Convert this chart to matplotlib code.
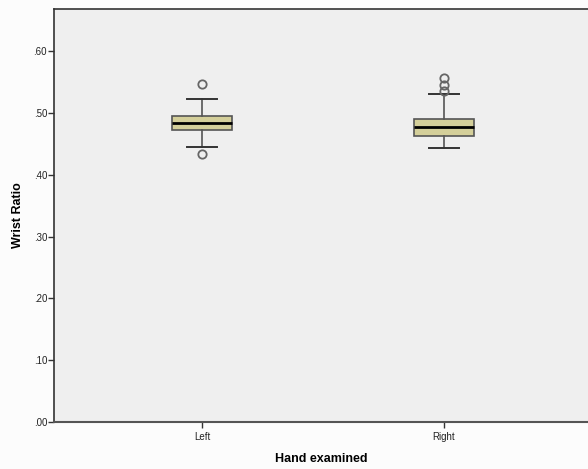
import matplotlib
matplotlib.use("Agg")
import matplotlib.pyplot as plt
from matplotlib.ticker import FuncFormatter

categories = ["Left", "Right"]
q1 = [0.472, 0.4625]
median = [0.4833, 0.4778]
q3 = [0.4956, 0.4908]
whislo = [0.445, 0.4438]
whishi = [0.5227, 0.5307]
outliers = [[0.547, 0.433], [0.5572, 0.5456, 0.5356]]
yticks = [0.0, 0.1, 0.2, 0.3, 0.4, 0.5, 0.6]

plt.rcParams['font.family'] = ['Liberation Sans', 'DejaVu Sans']

fig = plt.figure(figsize=(5.88, 4.69), dpi=100, facecolor='#fcfcfc')
W, H = 588, 469
left, right, top, bottom = 54, 588, 9, 422
ax = fig.add_axes([left / W, 1 - bottom / H, (right - left) / W, (bottom - top) / H])
ax.set_facecolor('#efefef')

stats = []
for i, c in enumerate(categories):
    stats.append(dict(label=c, q1=q1[i], med=median[i], q3=q3[i],
                      whislo=whislo[i], whishi=whishi[i], fliers=outliers[i]))

ax.bxp(stats, positions=[1, 2], widths=0.25, patch_artist=True,
       boxprops=dict(facecolor='#d4cf9a', edgecolor='#555555', linewidth=1.2),
       medianprops=dict(color='black', linewidth=2),
       whiskerprops=dict(color='#555555', linewidth=1.2),
       capprops=dict(color='#333333', linewidth=1.4),
       capwidths=0.125,
       flierprops=dict(marker='o', markersize=6, markerfacecolor='none',
                       markeredgecolor='#666666', markeredgewidth=1.3))

ax.set_xlim(1 - 148 / 242, 2 + 144 / 242)
ax.set_ylim(0, 0.668)
ax.set_yticks(yticks)
ax.yaxis.set_major_formatter(FuncFormatter(lambda v, p: ("%.2f" % v)[1:]))
ax.set_xticks([1, 2])
ax.set_xticklabels(categories)
ax.tick_params(axis='both', labelsize=7, length=4, width=1, colors='#333333',
               labelcolor='#222222', direction='out')
ax.tick_params(axis='y', pad=1)
ax.tick_params(axis='x', pad=3)

for s in ['left', 'top', 'bottom']:
    ax.spines[s].set_color('#333333')
    ax.spines[s].set_linewidth(1.2)
ax.spines['bottom'].set_color('#555555')
ax.spines['bottom'].set_linewidth(1.5)
ax.spines['right'].set_visible(False)

ax.set_ylabel("Wrist Ratio", fontsize=9, fontweight='bold')
ax.yaxis.set_label_coords(-0.056, 0.5)
ax.set_xlabel("Hand examined", fontsize=9, fontweight='bold', labelpad=8)

fig.savefig("out.png", dpi=100, facecolor=fig.get_facecolor())
